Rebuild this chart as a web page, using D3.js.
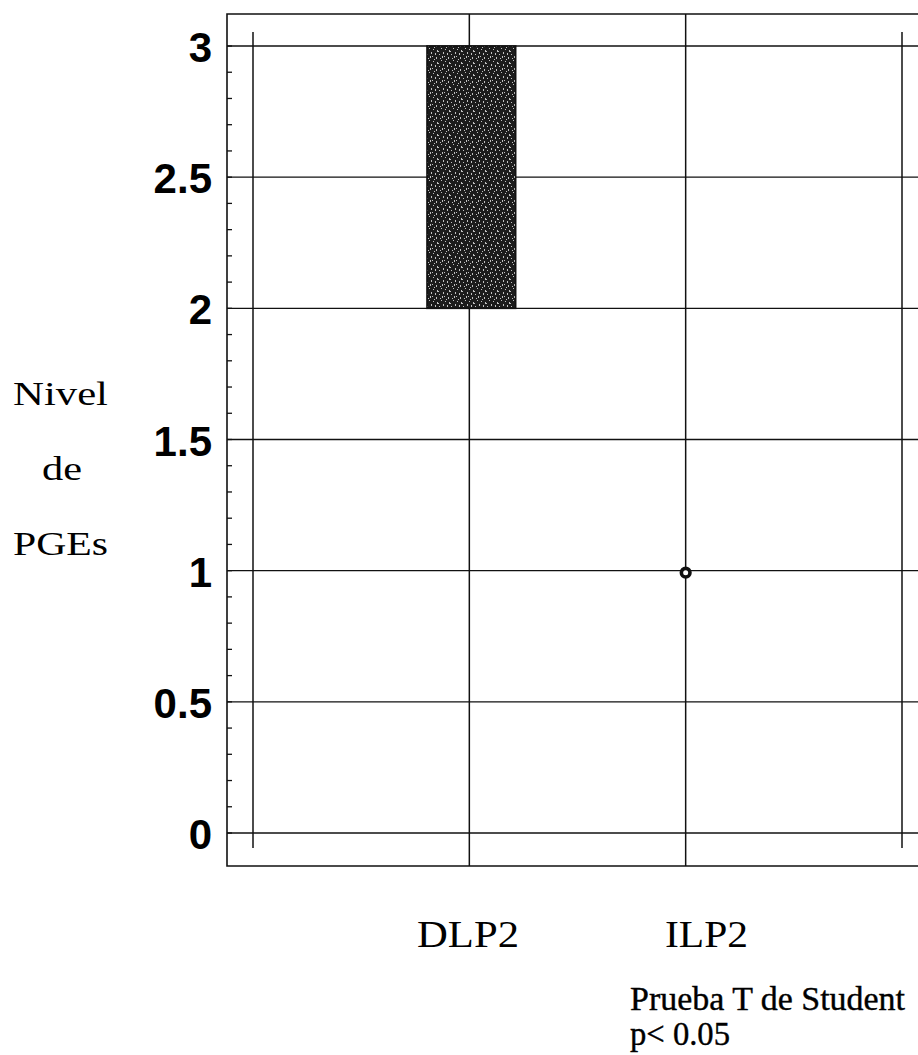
<!DOCTYPE html>
<html>
<head>
<meta charset="utf-8">
<script src="https://cdn.jsdelivr.net/npm/d3@7"></script>
<style>
  html, body { margin: 0; padding: 0; background: #fff; }
  svg { display: block; }
</style>
</head>
<body>
<svg id="chart" width="918" height="1055"></svg>
<script>
// ---- data ----
const gridPositions = ["", "DLP2", "ILP2", " "];   // vertical grid columns
const categories = ["DLP2", "ILP2"];
const boxLow  = [2, 1];     // lower edge of box (Q1)
const boxHigh = [3, 1];     // upper edge of box (Q3)
const yTicks = [0, 0.5, 1, 1.5, 2, 2.5, 3];
const yTickLabels = ["0", "0.5", "1", "1.5", "2", "2.5", "3"];
const yMinorTicks = d3.range(0, 31).map(i => i / 10);
const yAxisLabel = ["Nivel", "de", "PGEs"];
const noteLines = ["Prueba T de Student", "p< 0.05"];

// ---- layout ----
const svg = d3.select("#chart");
const frame = { left: 227, top: 14, right: 925, bottom: 866 };
const ink = "#111";

const x = d3.scalePoint().domain(gridPositions).range([253, 902]);
const step = x.step();
const y = d3.scaleLinear().domain([0, 3]).range([833, 46]);

// stipple pattern
const defs = svg.append("defs");
const pat = defs.append("pattern")
  .attr("id", "stipple").attr("patternUnits", "userSpaceOnUse")
  .attr("width", 12).attr("height", 12);
pat.append("rect").attr("width", 12).attr("height", 12).attr("fill", "#1c1c1c");
const dots = [[1,1],[5,2],[9,0],[3,5],[7,6],[11,4],[0,8],[4,9],[8,10],[10,8],[6,3],[2,11]];
dots.forEach(([dx, dy], i) => {
  pat.append("rect").attr("x", dx).attr("y", dy)
    .attr("width", 1).attr("height", i % 2 ? 2 : 1)
    .attr("fill", "#ddd").attr("opacity", 0.85);
});

// frame (top, left, bottom)
svg.append("path")
  .attr("d", `M${frame.right},${frame.top}H${frame.left}V${frame.bottom}H${frame.right}`)
  .attr("fill", "none").attr("stroke", ink).attr("stroke-width", 1.6);

// horizontal grid lines
svg.append("g").selectAll("line").data(yTicks).join("line")
  .attr("x1", frame.left).attr("x2", frame.right)
  .attr("y1", d => y(d)).attr("y2", d => y(d))
  .attr("stroke", ink).attr("stroke-width", 1.4);

// minor ticks on left frame
svg.append("g").selectAll("line").data(yMinorTicks).join("line")
  .attr("x1", frame.left).attr("x2", frame.left + 5)
  .attr("y1", d => y(d)).attr("y2", d => y(d))
  .attr("stroke", ink).attr("stroke-width", 1.3);

// vertical grid lines
svg.append("g").selectAll("line").data(gridPositions).join("line")
  .attr("x1", d => x(d)).attr("x2", d => x(d))
  .attr("y1", d => categories.includes(d) ? frame.top : 32)
  .attr("y2", d => categories.includes(d) ? frame.bottom : 848)
  .attr("stroke", ink).attr("stroke-width", 1.5);

// y tick labels
svg.append("g").selectAll("text").data(yTicks).join("text")
  .attr("x", 212).attr("y", d => y(d) + 16)
  .attr("text-anchor", "end")
  .attr("font-family", "Liberation Sans, Arial, sans-serif")
  .attr("font-weight", "bold").attr("font-size", 42)
  .attr("fill", "#000")
  .text((d, i) => yTickLabels[i]);

// boxes / points
const boxW = step * 0.41;
const boxShift = 2;
categories.forEach((c, i) => {
  if (boxHigh[i] > boxLow[i]) {
    svg.append("rect")
      .attr("x", x(c) - boxW / 2 + boxShift).attr("width", boxW)
      .attr("y", y(boxHigh[i])).attr("height", y(boxLow[i]) - y(boxHigh[i]))
      .attr("fill", "url(#stipple)")
      .attr("stroke", ink).attr("stroke-width", 1.6);
  } else {
    svg.append("circle")
      .attr("cx", x(c)).attr("cy", y(boxLow[i]) + 2).attr("r", 4.3)
      .attr("fill", "#fff").attr("stroke", ink).attr("stroke-width", 3.6);
  }
});

const serif = "Liberation Serif, Times New Roman, serif";

// y axis label (three lines)
const yLab = [
  { x: 13, y: 405, w: 95 },
  { x: 42, y: 480, w: 40 },
  { x: 13, y: 555, w: 95 }
];
svg.append("g").selectAll("text").data(yAxisLabel).join("text")
  .attr("x", (d, i) => yLab[i].x).attr("y", (d, i) => yLab[i].y)
  .attr("textLength", (d, i) => yLab[i].w).attr("lengthAdjust", "spacingAndGlyphs")
  .attr("font-family", serif).attr("font-size", 34).attr("fill", "#000")
  .text(d => d);

// category labels
const catLab = [{ x: 417, w: 102 }, { x: 665, w: 83 }];
svg.append("g").selectAll("text").data(categories).join("text")
  .attr("x", (d, i) => catLab[i].x).attr("y", 947)
  .attr("textLength", (d, i) => catLab[i].w).attr("lengthAdjust", "spacingAndGlyphs")
  .attr("font-family", serif).attr("font-size", 37).attr("fill", "#000")
  .text(d => d);

// note
const noteLab = [{ y: 1010, w: 275 }, { y: 1045, w: 100 }];
svg.append("g").selectAll("text").data(noteLines).join("text")
  .attr("x", 630).attr("y", (d, i) => noteLab[i].y)
  .attr("textLength", (d, i) => noteLab[i].w).attr("lengthAdjust", "spacingAndGlyphs")
  .attr("font-family", serif).attr("font-size", 34).attr("fill", "#000")
  .attr("stroke", "#000").attr("stroke-width", 0.4)
  .text(d => d);
</script>
</body>
</html>
